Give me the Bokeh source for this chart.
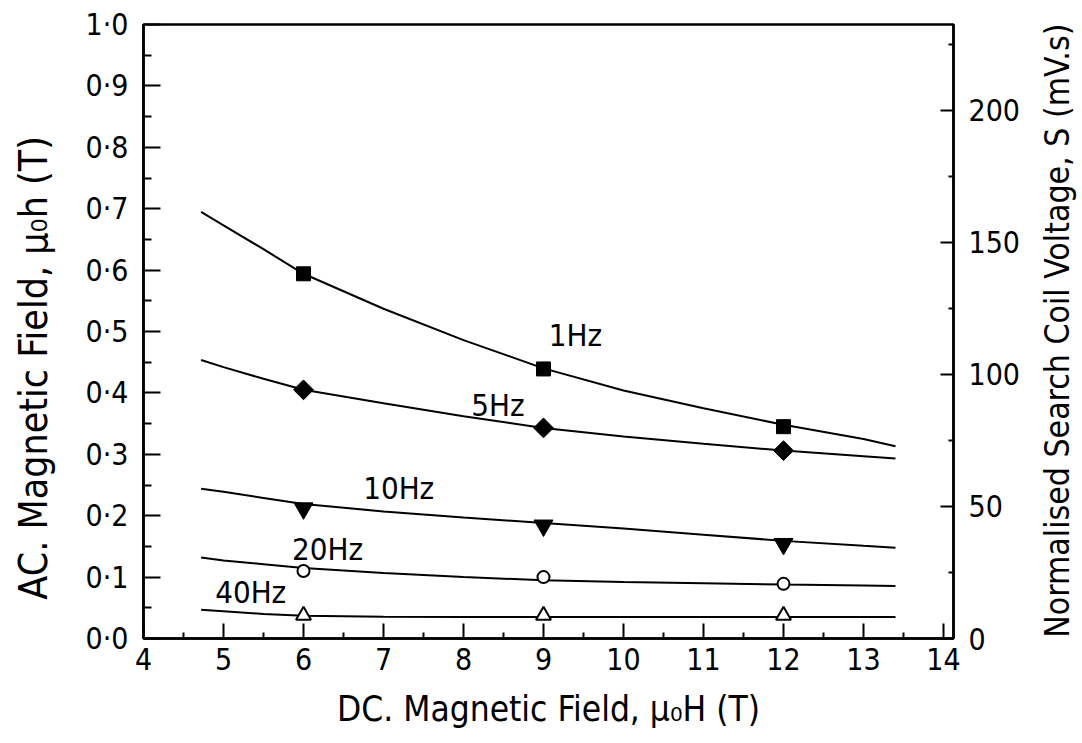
import math
from bokeh.plotting import figure
from bokeh.layouts import row
from bokeh.models import Range1d, LinearAxis, FixedTicker, CustomJSTickFormatter, ColumnDataSource
from bokeh.core.properties import value
from bokeh.embed import file_html
from bokeh.resources import INLINE

# ---- data ----
curve_x = [4.72, 5.0, 5.5, 6.0, 7.0, 8.0, 9.0, 10.0, 11.0, 12.0, 13.0, 13.4]
curve_1hz = [0.695, 0.673, 0.634, 0.594, 0.537, 0.486, 0.440, 0.404, 0.375, 0.348, 0.325, 0.313]
curve_5hz = [0.4535, 0.442, 0.423, 0.405, 0.383, 0.362, 0.343, 0.329, 0.317, 0.306, 0.297, 0.293]
curve_10hz = [0.244, 0.239, 0.229, 0.219, 0.207, 0.197, 0.188, 0.179, 0.169, 0.159, 0.151, 0.148]
curve_20hz = [0.132, 0.127, 0.121, 0.115, 0.1065, 0.100, 0.095, 0.092, 0.090, 0.088, 0.0865, 0.0855]
curve_40hz = [0.047, 0.0445, 0.040, 0.037, 0.0355, 0.035, 0.035, 0.035, 0.035, 0.035, 0.035, 0.035]

point_x = [6, 9, 12]
points_1hz = [0.594, 0.439, 0.345]
points_5hz = [0.405, 0.343, 0.306]
points_10hz = [0.212, 0.184, 0.154]
points_20hz = [0.110, 0.100, 0.089]
points_40hz = [0.0375, 0.0375, 0.0375]

series_labels = ["1Hz", "5Hz", "10Hz", "20Hz", "40Hz"]
label_x = [9.4, 8.43, 7.19, 6.30, 5.34]
label_y = [0.494, 0.380, 0.245, 0.145, 0.0755]

x_ticks = [4, 5, 6, 7, 8, 9, 10, 11, 12, 13, 14]
x_minor = [4.5, 5.5, 6.5, 7.5, 8.5, 9.5, 10.5, 11.5, 12.5, 13.5]
y_ticks = [0.0, 0.1, 0.2, 0.3, 0.4, 0.5, 0.6, 0.7, 0.8, 0.9, 1.0]
y_minor = [0.05, 0.15, 0.25, 0.35, 0.45, 0.55, 0.65, 0.75, 0.85, 0.95]
s_ticks = [0, 50, 100, 150, 200]
s_minor = [25, 75, 125, 175, 225]

x_title = "DC. Magnetic Field, \u03bc\u2080H (T)"
y_title = "AC. Magnetic Field, \u03bc\u2080h (T)"
s_title = "Normalised Search Coil Voltage, S (mV.s)"

FONT = "DejaVu Sans Condensed, DejaVu Sans, sans-serif"

H = 740
TOP, BOTTOM = 24, 102
FRAME_H = H - TOP - BOTTOM
strip_y = (-BOTTOM / FRAME_H, 1 + TOP / FRAME_H)

p = figure(
    output_backend="svg", toolbar_location=None,
    width=976, height=H,
    x_range=Range1d(4, 14.125), y_range=Range1d(0, 1.0),
    min_border_left=83, min_border_right=83, min_border_top=TOP, min_border_bottom=BOTTOM,
    background_fill_color="white", border_fill_color="white",
)
p.grid.visible = False
p.outline_line_color = "black"
p.outline_line_width = 2.5

p.extra_y_ranges = {"s": Range1d(0, 232.5)}
right = LinearAxis(y_range_name="s")
p.add_layout(right, "right")

fmt = CustomJSTickFormatter(code="return tick.toFixed(1).replace('.', '\u00b7');")

xa = p.xaxis[0]
xa.ticker = FixedTicker(ticks=x_ticks, minor_ticks=x_minor)
xa.major_label_standoff = 9
xa.axis_label = x_title
xa.axis_label_standoff = 16
xa.axis_label_text_font = FONT
xa.axis_label_text_font_size = "35px"
xa.axis_label_text_font_style = "normal"
xa.axis_label_text_color = "black"

ya = p.yaxis[0]
ya.ticker = FixedTicker(ticks=y_ticks, minor_ticks=y_minor)
ya.formatter = fmt
ya.major_label_standoff = 15

right.ticker = FixedTicker(ticks=s_ticks, minor_ticks=s_minor)
right.major_label_standoff = 15

for ax in (xa, ya, right):
    ax.axis_line_color = "black"
    ax.axis_line_width = 2.5
    ax.major_tick_line_color = "black"
    ax.minor_tick_line_color = "black"
    ax.major_tick_line_width = 2
    ax.minor_tick_line_width = 2
    ax.major_tick_out = 0
    ax.minor_tick_out = 0
    ax.major_label_text_font = FONT
    ax.major_label_text_font_size = "30px"
    ax.major_label_text_color = "black"

xa.major_tick_in = 15
xa.minor_tick_in = 6
ya.major_tick_in = 17
ya.minor_tick_in = 8
right.major_tick_in = 13
right.minor_tick_in = 5

# curves
for ys in (curve_1hz, curve_5hz, curve_10hz, curve_20hz, curve_40hz):
    p.line(curve_x, ys, line_color="black", line_width=2)

# markers
p.scatter(point_x, points_1hz, marker="square", size=14, fill_color="black", line_color="black")
p.scatter(point_x, points_5hz, marker="square", size=14, angle=math.pi / 4,
          fill_color="black", line_color="black")
p.scatter(point_x, points_10hz, marker="inverted_triangle", size=19, fill_color="black", line_color="black")
p.scatter(point_x, points_20hz, marker="circle", size=12, fill_color="white", line_color="black", line_width=2)
p.scatter(point_x, points_40hz, marker="triangle", size=15, fill_color="white", line_color="black", line_width=2)

src = ColumnDataSource(dict(x=label_x, y=label_y, t=series_labels))
p.text(x="x", y="y", text="t", source=src, text_font=value(FONT), text_font_size="31px",
       text_align="center", text_baseline="middle", text_color="black")


def strip(width, x0, x1):
    s = figure(output_backend="svg", toolbar_location=None, width=width, height=H,
               x_range=Range1d(x0, x1), y_range=Range1d(*strip_y),
               x_axis_type=None, y_axis_type=None, min_border=0,
               background_fill_color="white", border_fill_color="white")
    s.grid.visible = False
    s.outline_line_color = None
    return s


# left strip: page x 0..60  (same horizontal scale as the main plot, 80 px per unit)
left_strip = strip(60, 4 - 143 / 80, 4 - 83 / 80)
left_strip.text(x=[2.625], y=[0.365], text=[y_title], text_font=value(FONT), text_font_size="39px",
                angle=math.pi / 2, text_align="center", text_baseline="middle", text_color="black")

# right strip: page x 1036..1080
right_strip = strip(44, 4 + (1036 - 143) / 80, 4 + (1080 - 143) / 80)
right_strip.text(x=[15.42], y=[0.438], text=[s_title], text_font=value(FONT), text_font_size="33.5px",
                 angle=math.pi / 2, text_align="center", text_baseline="middle", text_color="black")

layout = row(left_strip, p, right_strip, spacing=0)

open("out.html", "w").write(file_html(layout, INLINE))
